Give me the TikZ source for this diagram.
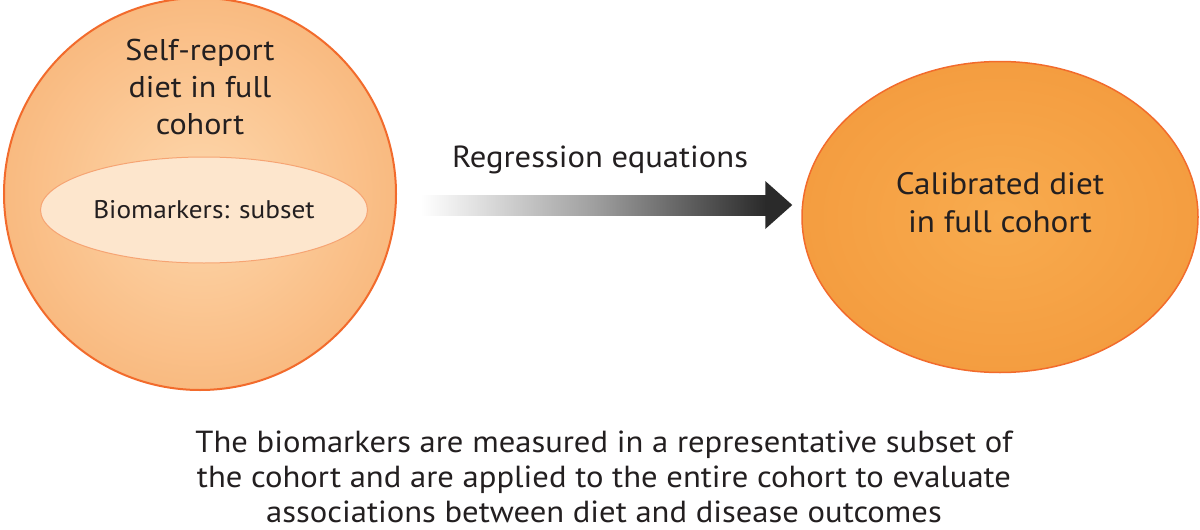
\documentclass[tikz,border=0pt]{standalone}
\usepackage{fontspec}
\setmainfont[FakeStretch=1.07]{PT Sans}
\usetikzlibrary{shapes.geometric,calc}
\definecolor{ringc}{HTML}{F26B2C}
\definecolor{lightin}{HTML}{FDD7AC}
\definecolor{lightout}{HTML}{F9BA80}
\definecolor{subfill}{HTML}{FDE6CD}
\definecolor{subline}{HTML}{F6A473}
\definecolor{calin}{HTML}{F8AB4E}
\definecolor{calout}{HTML}{F49D40}
\definecolor{txt}{HTML}{231F20}
\definecolor{arrowdark}{HTML}{2A2A2A}
\tikzset{
  bigtext/.style={text=txt, align=center, inner sep=0},
}
\begin{document}
\begin{tikzpicture}[x=1pt,y=-1pt]
\useasboundingbox (0,0) rectangle (1200,530);
\fill[white] (0,0) rectangle (1200,530);
% left circle
\node[circle, minimum size=392pt, inner sep=0, draw=ringc, line width=2pt,
      inner color=lightin, outer color=lightout] (full) at (200,194) {};
\node[bigtext, font=\fontsize{30}{37}\selectfont] (fulltxt) at (200,87) {Self-report\\diet in full\\cohort};
\node[ellipse, minimum width=327pt, minimum height=106pt, inner sep=0,
      draw=subline, line width=1pt, fill=subfill] (sub) at (204,210) {};
\node[bigtext, font=\fontsize{25.5}{30}\selectfont] (subtxt) at (sub) {Biomarkers: subset};
% right ellipse
\node[ellipse, minimum width=396pt, minimum height=311pt, inner sep=0, draw=ringc, line width=1.5pt,
      inner color=calin, outer color=calout] (cal) at (1000,217) {};
\node[bigtext, font=\fontsize{31}{38}\selectfont] (caltxt) at (1000,203) {Calibrated diet\\in full cohort};
% arrow
\coordinate (at) at ($(cal.west)+(-9,-12)$);
\coordinate (as0) at ($(full.east)+(24,0)$);
\coordinate (as) at (as0 |- at);
\path[left color=white, right color=arrowdark, middle color=gray!75]
  ($(as)+(0,-10)$) -- ($(at)+(-26,-10)$) -- ($(at)+(-26,10)$) -- ($(as)+(0,10)$) -- cycle;
\fill[arrowdark] ($(at)+(-27,-24)$) -- (at) -- ($(at)+(-27,24)$) -- cycle;
\node[bigtext, font=\fontsize{30.5}{36}\selectfont] (reg) at (600,160) {Regression equations};
% caption
\node[bigtext, font=\fontsize{30.5}{35}\selectfont] (cap) at (604,477) {The biomarkers are measured in a representative subset of\\the cohort and are applied to the entire cohort to evaluate\\associations between diet and disease outcomes};
\end{tikzpicture}
\end{document}
